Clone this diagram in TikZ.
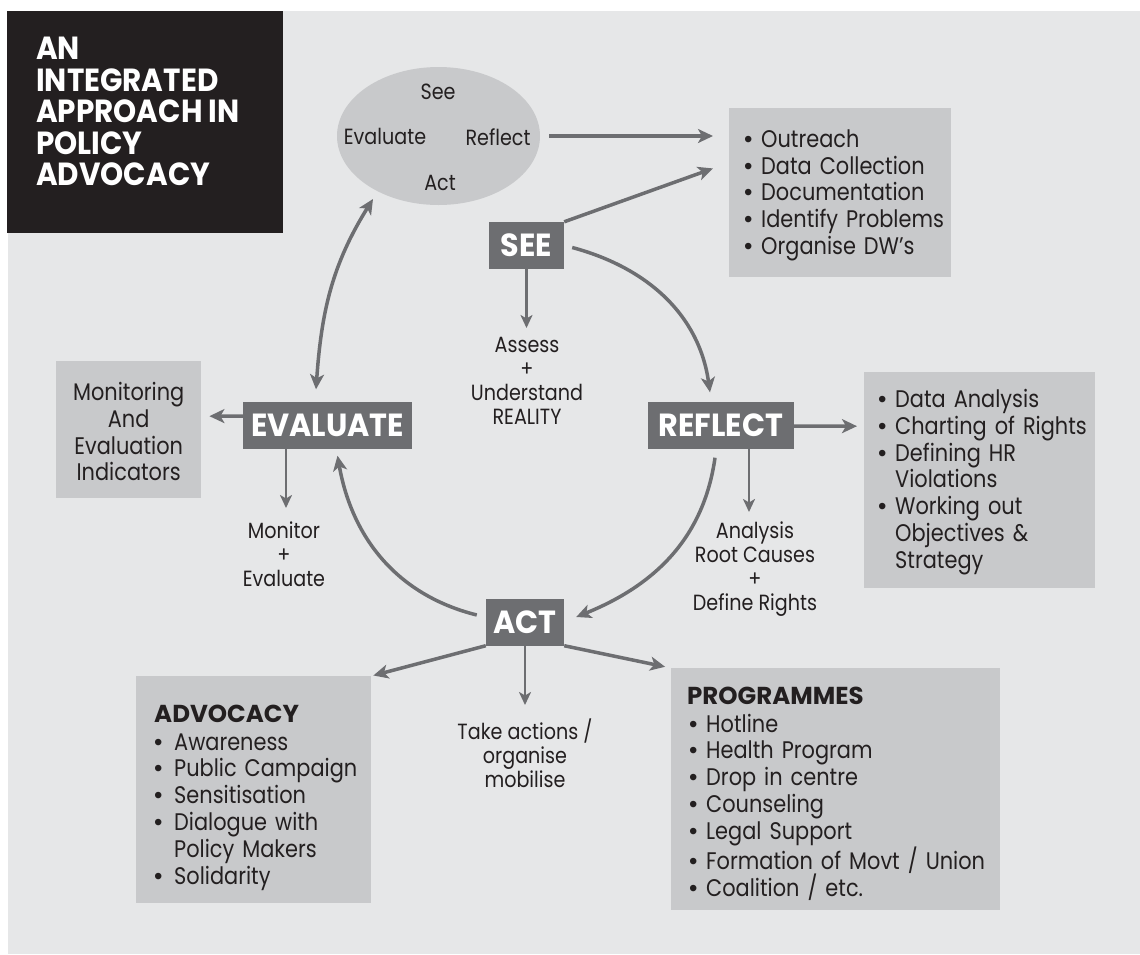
\documentclass[tikz,border=0pt]{standalone}
\usepackage{fontspec}
\setmainfont{Poppins}[FakeStretch=0.87]
\newfontfamily\titlefont{Poppins}[FakeStretch=0.92]
\newfontfamily\labfont{Poppins}[FakeStretch=0.945]
\newfontfamily\hdfont{Poppins}
\newfontfamily\bulfont{Liberation Sans}
\usetikzlibrary{shapes.geometric,arrows.meta,calc}
\definecolor{bgc}{HTML}{E6E7E8}
\definecolor{boxc}{HTML}{C8C9CB}
\definecolor{darkc}{HTML}{6D6E71}
\definecolor{inkc}{HTML}{231F20}
\newcommand\bul[1][17pt]{\makebox[#1][l]{\bulfont •}}
\newcommand\itm[2][17pt]{\mbox{\bul[#1]#2}}
\newcommand\cnt[2][17pt]{\mbox{\hspace*{#1}#2}}
\newcommand\up[1]{\rule{0pt}{#1}}
\begin{document}
\begin{tikzpicture}[x=1pt,y=-1pt,
  arr/.style={draw=darkc, line width=3.5pt, -{Stealth[length=15pt,width=14pt,inset=4pt]}},
  darr/.style={draw=darkc, line width=3.5pt, {Stealth[length=15pt,width=14pt,inset=4pt]}-{Stealth[length=15pt,width=14pt,inset=4pt]}},
  arrt/.style={draw=darkc, line width=2.5pt, -{Stealth[length=13pt,width=12pt,inset=3.5pt]}},
  lab/.style={fill=darkc, text=white, inner sep=0pt, minimum height=47pt,
    font=\labfont\bfseries\fontsize{32}{32}\selectfont},
  box/.style={fill=boxc, text=inkc, anchor=north west, align=left, inner ysep=0pt,
    font=\fontsize{24}{26.8}\selectfont},
  lbl/.style={text=inkc, align=center, inner sep=0pt, font=\fontsize{22}{24}\selectfont},
  etxt/.style={text=inkc, inner sep=0pt, font=\fontsize{22}{24}\selectfont}
]
\newcommand\boxhead[1]{\mbox{\hdfont\bfseries\fontsize{24.5}{26.8}\selectfont #1}}
\useasboundingbox (0,0) rectangle (1140,954);
\fill[white] (0,0) rectangle (1140,954);
\fill[bgc] (8,11) rectangle (1140,954);

% title
\node[fill=inkc, anchor=north west, inner sep=0pt, minimum width=276pt, minimum height=222pt] (titlebox) at (7,11) {};
\node[anchor=north west, inner sep=0pt, text=white, align=left,
  font=\titlefont\bfseries\fontsize{32}{31.5}\selectfont] (title) at (36,37)
  {AN\\INTEGRATED\\APPROACH IN\\POLICY\\ADVOCACY};

% cycle ellipse
\node[ellipse, fill=boxc, inner sep=0pt, minimum width=203pt, minimum height=138pt] (ell) at (438.5,136) {};
\node[etxt] (eSee) at (438,92) {See};
\node[etxt] (eEval) at (385,136) {Evaluate};
\node[etxt] (eRefl) at (498,137) {Reflect};
\node[etxt] (eAct) at (440,183) {Act};

% main stage labels
\node[lab, minimum width=75pt] (see) at (526.5,245.5) {SEE};
\node[lab, minimum width=146pt] (reflect) at (721,425) {REFLECT};
\node[lab, minimum width=78pt] (act) at (525,622) {ACT};
\node[lab, minimum width=169pt] (evaluate) at (327.5,425) {EVALUATE};

% boxes
\node[box, minimum width=222pt, minimum height=169pt, text width=192pt, inner xsep=15pt] (outreach) at (729,108)
  {\up{23pt}\itm{Outreach}\\ \itm{Data Collection}\\ \itm{Documentation}\\ \itm{Identify Problems}\\ \itm{Organise DW’s}};
\node[box, minimum width=231pt, minimum height=216pt, text width=203pt, inner xsep=14pt] (analysisbox) at (864,372)
  {\up{22pt}\itm{Data Analysis}\\ \itm{Charting of Rights}\\ \itm{Defining HR}\\ \cnt{Violations}\\ \itm{Working out}\\ \cnt{Objectives \&}\\ \cnt{Strategy}};
\node[box, minimum width=235pt, minimum height=227pt, text width=217pt, inner xsep=9pt] (advocacy) at (136,676)
  {\up{33pt}\hspace*{9pt}\boxhead{ADVOCACY}\\[1pt] \hspace*{9pt}\itm[20pt]{Awareness}\\ \hspace*{9pt}\itm[20pt]{Public Campaign}\\ \hspace*{9pt}\itm[20pt]{Sensitisation}\\ \hspace*{9pt}\itm[20pt]{Dialogue with}\\ \hspace*{9pt}\cnt[20pt]{Policy Makers}\\ \hspace*{9pt}\itm[20pt]{Solidarity}};
\node[box, minimum width=329pt, minimum height=242pt, text width=313pt, inner xsep=8pt] (programmes) at (671,668)
  {\up{26pt}\hspace*{8pt}\boxhead{PROGRAMMES}\\[1pt] \hspace*{10pt}\itm{Hotline}\\ \hspace*{10pt}\itm{Health Program}\\ \hspace*{10pt}\itm{Drop in centre}\\ \hspace*{10pt}\itm{Counseling}\\ \hspace*{10pt}\itm{Legal Support}\\ \hspace*{10pt}\itm{Formation of Movt / Union}\\ \hspace*{10pt}\itm{Coalition / etc.}};
\node[box, align=center, inner xsep=0pt, minimum width=145pt, minimum height=137pt, text width=145pt] (monbox) at (56,361)
  {\up{22pt}Monitoring\\And\\Evaluation\\Indicators};

% labels under arrows
\node[lbl, anchor=north] (assess) at (527,337) {Assess\\+\\Understand\\REALITY};
\node[lbl, anchor=north] (analysis) at (755,522) {Analysis\\Root Causes\\+\\Define Rights};
\node[lbl, anchor=north] (monitor) at (284,522) {Monitor\\+\\Evaluate};
\node[lbl, anchor=north] (take) at (525,719) {Take actions /\\organise\\mobilise};

% connectors
\draw[arr, shorten <=9pt, shorten >=16pt] (ell.east) -- (ell.east -| outreach.west);
\draw[arr, shorten >=17pt] (see.north east) -- ($(outreach.west)+(0,-30)$);
\draw[arr] ($(see.east)+(8,2)$) to[out=-15, in=98] ($(reflect.north)+(-11,-9)$);
\draw[arr] ($(reflect.south)+(-6,9)$) to[out=-98, in=22] ($(act.east)+(12,-5)$);
\draw[arr] ($(act.west)+(-9,-7)$) to[out=166, in=-80] ($(evaluate.south)+(10,7)$);
\draw[darr] ($(evaluate.north)+(-11.5,-12)$) to[out=86, in=238] ($(ell.center)+(-65.5,63)$);

\draw[arr, shorten >=7pt] ($(reflect.east)+(0,1)$) -- ($(analysisbox.west)+(0,-54)$);
\draw[arr, shorten >=8pt] ($(evaluate.west)+(0,-9)$) -- ($(monbox.east)+(0,-13.5)$);
\draw[arr, shorten >=2pt] (act.south west) -- (advocacy.north east);
\draw[arr, shorten >=6pt] (act.south east) -- (programmes.north west);

\coordinate (rs) at ($(reflect.south)+(28,0)$);
\coordinate (es) at ($(evaluate.south)+(-41.5,0)$);
\draw[arrt, shorten >=9pt] (see.south) -- (see.south |- assess.north);
\draw[arrt, shorten >=10pt] (rs) -- (rs |- analysis.north);
\draw[arrt, shorten >=14pt] (es) -- (es |- monitor.north);
\draw[arrt, shorten >=14pt] (act.south) -- (act.south |- take.north);
\end{tikzpicture}
\end{document}
